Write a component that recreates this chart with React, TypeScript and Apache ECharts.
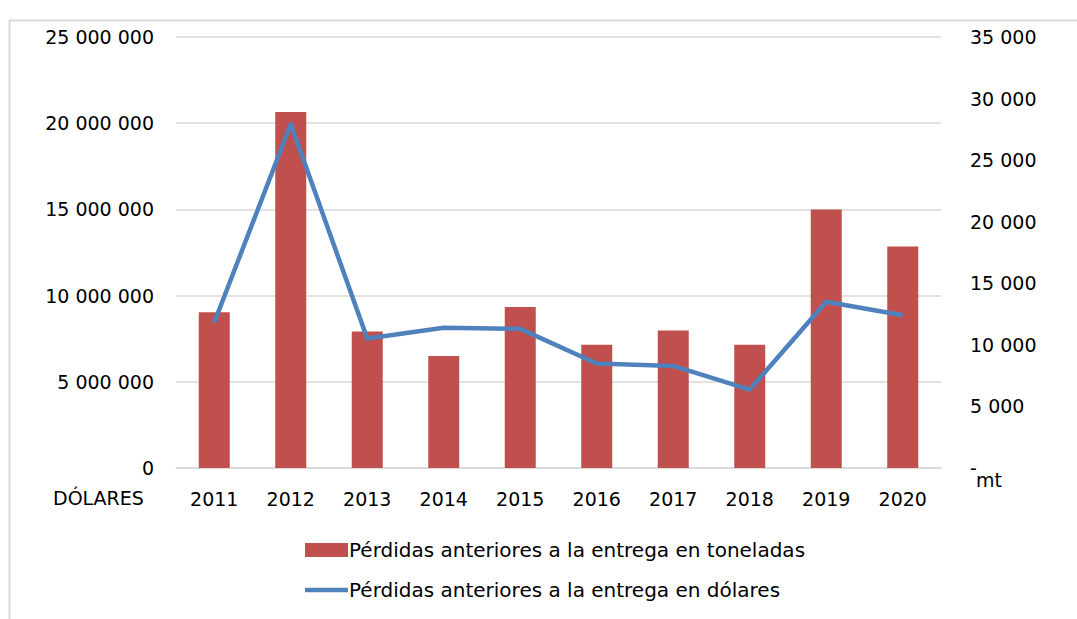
import React, { useEffect, useRef } from "react";
import * as echarts from "echarts";

const years = ["2011", "2012", "2013", "2014", "2015", "2016", "2017", "2018", "2019", "2020"];
const tonnes = [12640, 28900, 11090, 9100, 13070, 10000, 11170, 10000, 21000, 17980];
const dollars = [8440000, 19950000, 7510000, 8130000, 8070000, 6060000, 5920000, 4550000, 9640000, 8860000];
const barName = "Pérdidas anteriores a la entrega en toneladas";
const lineName = "Pérdidas anteriores a la entrega en dólares";
const leftAxisTitle = "DÓLARES";
const rightAxisTitle = "mt";

const FONT = "'DejaVu Sans', sans-serif";
const FS = 19;
const fmt = (v: number) => String(v).replace(/\B(?=(\d{3})+(?!\d))/g, " ");

export default function App() {
  const ref = useRef<HTMLDivElement>(null);
  useEffect(() => {
    if (!ref.current) return;
    const chart = echarts.init(ref.current, undefined, { renderer: "svg" });
    chart.setOption({
      animation: false,
      backgroundColor: "#ffffff",
      textStyle: { fontFamily: FONT, color: "#000" },
      grid: { left: 176, right: 136, top: 37, bottom: 151, containLabel: false },
      legend: {
        orient: "vertical",
        left: 300,
        top: 535,
        itemGap: 20,
        itemWidth: 43,
        itemHeight: 14,
        textStyle: { fontFamily: FONT, fontSize: 20, color: "#000", padding: [0, 0, 0, -4] },
        data: [
          { name: barName, icon: "rect" },
          { name: lineName, icon: "path://M0,0 L44,0 L44,4.5 L0,4.5 Z" },
        ],
      },
      xAxis: {
        type: "category",
        data: years,
        axisLine: { show: true, lineStyle: { color: "#d9d9d9", width: 1.5 } },
        axisTick: { show: false },
        axisLabel: { fontFamily: FONT, fontSize: FS, color: "#000", margin: 21 },
      },
      yAxis: [
        {
          type: "value",
          min: 0,
          max: 25000000,
          interval: 5000000,
          position: "left",
          axisLine: { show: false },
          axisTick: { show: false },
          splitLine: { lineStyle: { color: "#d9d9d9", width: 1.5 } },
          axisLabel: { fontFamily: FONT, fontSize: FS, color: "#000", margin: 22, formatter: (v: number) => fmt(v) },
        },
        {
          type: "value",
          min: 0,
          max: 35000,
          interval: 5000,
          position: "right",
          axisLine: { show: false },
          axisTick: { show: false },
          splitLine: { show: false },
          axisLabel: {
            fontFamily: FONT,
            fontSize: FS,
            color: "#000",
            margin: 29,
            formatter: (v: number) => (v === 0 ? "-" : fmt(v)),
          },
        },
      ],
      series: [
        {
          name: barName,
          type: "bar",
          yAxisIndex: 1,
          data: tonnes,
          barWidth: 31,
          itemStyle: { color: "#C0504D" },
        },
        {
          name: lineName,
          type: "line",
          yAxisIndex: 0,
          data: dollars,
          showSymbol: false,
          symbol: "none",
          lineStyle: { color: "#4F81BD", width: 4.5, join: "round" },
          itemStyle: { color: "#4F81BD" },
        },
      ],
      graphic: [
        {
          type: "rect",
          shape: { x: 9.5, y: 20.5, width: 1200, height: 800 },
          style: { fill: "none", stroke: "#d9d9d9", lineWidth: 2 },
          silent: true,
          z: -1,
        },
        {
          type: "text",
          left: 53,
          top: 488,
          style: { text: leftAxisTitle, font: `${FS}px ${FONT}`, fill: "#000" },
        },
        {
          type: "text",
          left: 976,
          top: 470,
          style: { text: rightAxisTitle, font: `${FS}px ${FONT}`, fill: "#000" },
        },
      ],
    });
    return () => chart.dispose();
  }, []);
  return <div ref={ref} style={{ position: "fixed", left: 0, top: 0, width: 1077, height: 619 }} />;
}
